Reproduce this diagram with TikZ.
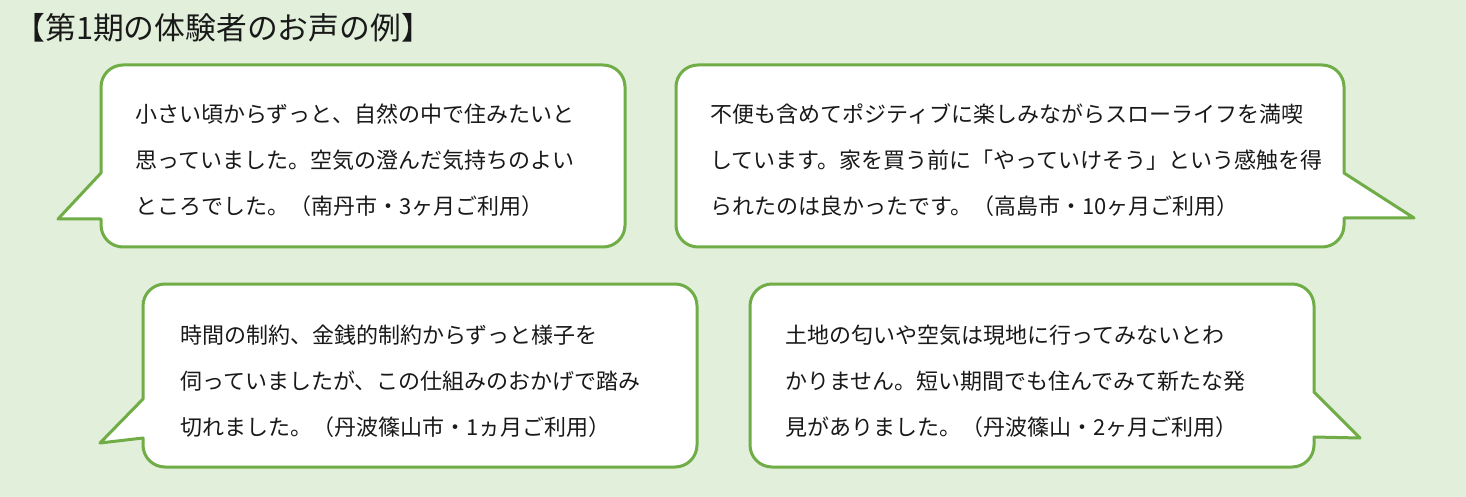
\documentclass[tikz,border=0pt]{standalone}
\usepackage{fontspec}
\setmainfont{Noto Sans CJK JP}
\definecolor{leafgreen}{HTML}{70AD47}
\definecolor{paleleaf}{HTML}{E2EFDA}
\tikzset{
	bubble/.style={draw=leafgreen, line width=1.5pt, fill=white, line join=round},
	voice/.style={anchor=west, align=left, inner sep=0pt, font=\fontsize{11}{23}\selectfont, text=black!90},
}
\begin{document}
\begin{tikzpicture}[x=0.5pt,y=-0.5pt]
	\fill[paleleaf] (0,0) rectangle (1466,497);
	\useasboundingbox (0,0) rectangle (1466,497);
	\node[anchor=west, inner sep=0pt, font=\fontsize{15.4}{18}\selectfont, text=black!90] (title) at (14,28) {【第1期の体験者のお声の例】};
	
	\draw[bubble] (58,219) -- (101,219) [rounded corners=11pt] -- (101,247) -- (625,247) -- (625,65) -- (101,65) [sharp corners] -- (101,173) -- cycle;
	\draw[bubble] (1414,218) -- (1344,218) [rounded corners=11pt] -- (1344,247) -- (676,247) -- (676,65) -- (1344,65) [sharp corners] -- (1344,173) -- cycle;
	\draw[bubble] (100,443) -- (143,438) [rounded corners=11pt] -- (143,467) -- (697,467) -- (697,284) -- (143,284) [sharp corners] -- (143,399) -- cycle;
	\draw[bubble] (1360,438) -- (1314,437) [rounded corners=11pt] -- (1314,467) -- (750,467) -- (750,284) -- (1314,284) [sharp corners] -- (1314,392) -- cycle;
	
	\node[voice] (v1) at (135,160) {小さい頃からずっと、自然の中で住みたいと\\思っていました。空気の澄んだ気持ちのよい\\ところでした。（南丹市・3ヶ月ご利用）};
	\node[voice] (v2) at (710,160) {不便も含めてポジティブに楽しみながらスローライフを満喫\\しています。家を買う前に「やっていけそう」という感触を得\\られたのは良かったです。（高島市・10ヶ月ご利用）};
	\node[voice] (v3) at (180,381) {時間の制約、金銭的制約からずっと様子を\\伺っていましたが、この仕組みのおかげで踏み\\切れました。（丹波篠山市・1ヵ月ご利用）};
	\node[voice] (v4) at (785,381) {土地の匂いや空気は現地に行ってみないとわ\\かりません。短い期間でも住んでみて新たな発\\見がありました。（丹波篠山・2ヶ月ご利用）};
\end{tikzpicture}
\end{document}
